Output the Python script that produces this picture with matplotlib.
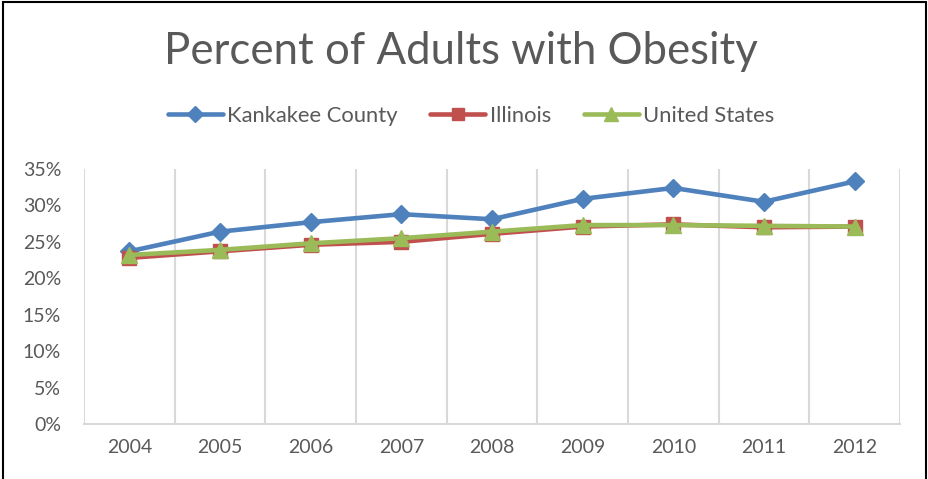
import matplotlib
matplotlib.use("Agg")
import matplotlib.pyplot as plt
from matplotlib.patches import Rectangle
from matplotlib.ticker import FuncFormatter, MultipleLocator, FixedLocator

years = ["2004", "2005", "2006", "2007", "2008", "2009", "2010", "2011", "2012"]
kankakee = [23.7, 26.4, 27.7, 28.8, 28.1, 30.9, 32.4, 30.5, 33.3]
illinois = [22.8, 23.7, 24.6, 25.0, 26.1, 27.1, 27.4, 27.0, 27.1]
united_states = [23.2, 23.9, 24.8, 25.5, 26.4, 27.3, 27.3, 27.2, 27.1]

series_names = ["Kankakee County", "Illinois", "United States"]
colors = ["#4F81BD", "#C0504D", "#9BBB59"]
markers = ["D", "s", "^"]
msizes = [9.5, 10, 11.5]

plt.rcParams['font.family'] = ['Lato', 'DejaVu Sans']
text_color = "#595959"

fig = plt.figure(figsize=(9.29, 4.79), dpi=100)
fig.patches.append(Rectangle((3/929, -0.01), 923/929, 1 - 2/479 + 0.01, transform=fig.transFigure,
                             fill=False, edgecolor="black", linewidth=1.5))

ax = fig.add_axes([84/929, 1 - 424/479, (900 - 84)/929, (424 - 169)/479])

x = list(range(len(years)))
handles = []
for vals, name, c, m, ms in zip([kankakee, illinois, united_states], series_names, colors, markers, msizes):
    h, = ax.plot(x, vals, color=c, marker=m, markersize=ms, linewidth=3.3, label=name,
                 markeredgecolor=c, solid_capstyle='round', zorder=3)
    handles.append(h)

ax.set_xlim(-0.5, len(years) - 0.5)
ax.set_ylim(0, 35)
ax.yaxis.set_major_locator(MultipleLocator(5))
ax.yaxis.set_major_formatter(FuncFormatter(lambda v, p: f"{int(v)}%"))
ax.set_xticks(x)
ax.set_xticklabels(years)
ax.xaxis.set_minor_locator(FixedLocator([i - 0.5 for i in range(len(years) + 1)]))
ax.grid(which='minor', axis='x', color="#D9D9D9", linewidth=1.5)
ax.grid(which='major', axis='both', visible=False)
for s in ["top", "right", "left"]:
    ax.spines[s].set_visible(False)
ax.spines["bottom"].set_color("#D9D9D9")
ax.spines["bottom"].set_linewidth(1.5)
ax.tick_params(axis='both', which='both', length=0)
ax.tick_params(axis='y', labelsize=14, labelcolor=text_color, pad=16.5)
ax.tick_params(axis='x', labelsize=14, labelcolor=text_color, pad=11)

fig.text(461/929, 1 - 51/479, "Percent of Adults with Obesity", ha='center', va='center',
         fontsize=31.5, color=text_color, fontweight='normal')

leg = fig.legend(handles=handles, labels=series_names, loc='center', bbox_to_anchor=(471/929, 1 - 116/479),
                 ncol=3, frameon=False, fontsize=15.8, handlelength=2.5, handletextpad=0.2,
                 columnspacing=1.5, markerscale=0.85)
for t in leg.get_texts():
    t.set_color(text_color)

fig.savefig("out.png", dpi=100)
